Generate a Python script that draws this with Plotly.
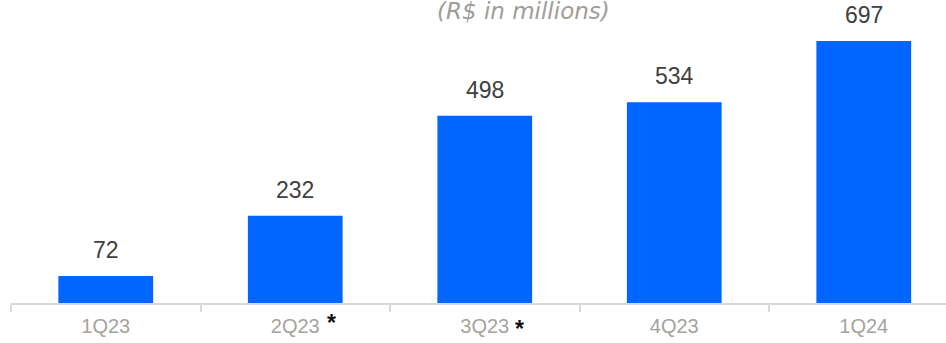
import plotly.graph_objects as go

# Quarterly values (R$ in millions)
quarters = ["1Q23", "2Q23", "3Q23", "4Q23", "1Q24"]
values = [72, 232, 498, 534, 697]
# Quarters flagged with an asterisk note
starred = ["2Q23", "3Q23"]

BAR_COLOR = "#0066ff"
LABEL_COLOR = "#404040"
AXIS_TEXT = "#a6a29d"
AXIS_LINE = "#d9d9d9"
FONT = "Liberation Sans, Arial, sans-serif"

fig = go.Figure(
    go.Bar(
        x=quarters,
        y=values,
        width=0.5,
        marker=dict(color=BAR_COLOR, line=dict(width=0)),
        hoverinfo="skip",
    )
)

annotations = []
# Value labels above each bar
for q, v in zip(quarters, values):
    annotations.append(
        dict(
            x=q, y=v, xref="x", yref="y",
            text=str(v), showarrow=False,
            yanchor="bottom", yshift=11,
            font=dict(family=FONT, size=23, color=LABEL_COLOR),
        )
    )

# Asterisks next to flagged quarter labels
star_offsets = {"2Q23": (36, -20), "3Q23": (35, -26)}
for q in starred:
    dx, dy = star_offsets[q]
    annotations.append(
        dict(
            x=q, y=0, xref="x", yref="paper",
            text="<b>*</b>", showarrow=False,
            xanchor="center", yanchor="middle",
            xshift=dx, yshift=dy,
            font=dict(family=FONT, size=23, color="#111111"),
        )
    )

# Unit subtitle
annotations.append(
    dict(
        x=(523 - 11) / 935, y=1, xref="paper", yref="paper",
        text="<i>(R$ in millions)</i>", showarrow=False,
        yanchor="top", yshift=4,
        font=dict(family="DejaVu Sans, sans-serif", size=23, color="#a09c98"),
    )
)

fig.update_layout(
    width=946,
    height=343,
    margin=dict(l=11, r=0, t=0, b=40),
    paper_bgcolor="white",
    plot_bgcolor="white",
    showlegend=False,
    annotations=annotations,
    xaxis=dict(
        type="category",
        range=[-0.5, 4.434],
        showline=True,
        linecolor=AXIS_LINE,
        linewidth=1.5,
        ticks="outside",
        tickson="boundaries",
        ticklen=7,
        tickcolor=AXIS_LINE,
        tickwidth=1.5,
        showgrid=False,
        ticklabelstandoff=4,
        tickfont=dict(family=FONT, size=20, color=AXIS_TEXT),
        fixedrange=True,
    ),
    yaxis=dict(
        range=[0, 806],
        visible=False,
        showgrid=False,
        zeroline=False,
        fixedrange=True,
    ),
)

fig.write_html("out.html")
